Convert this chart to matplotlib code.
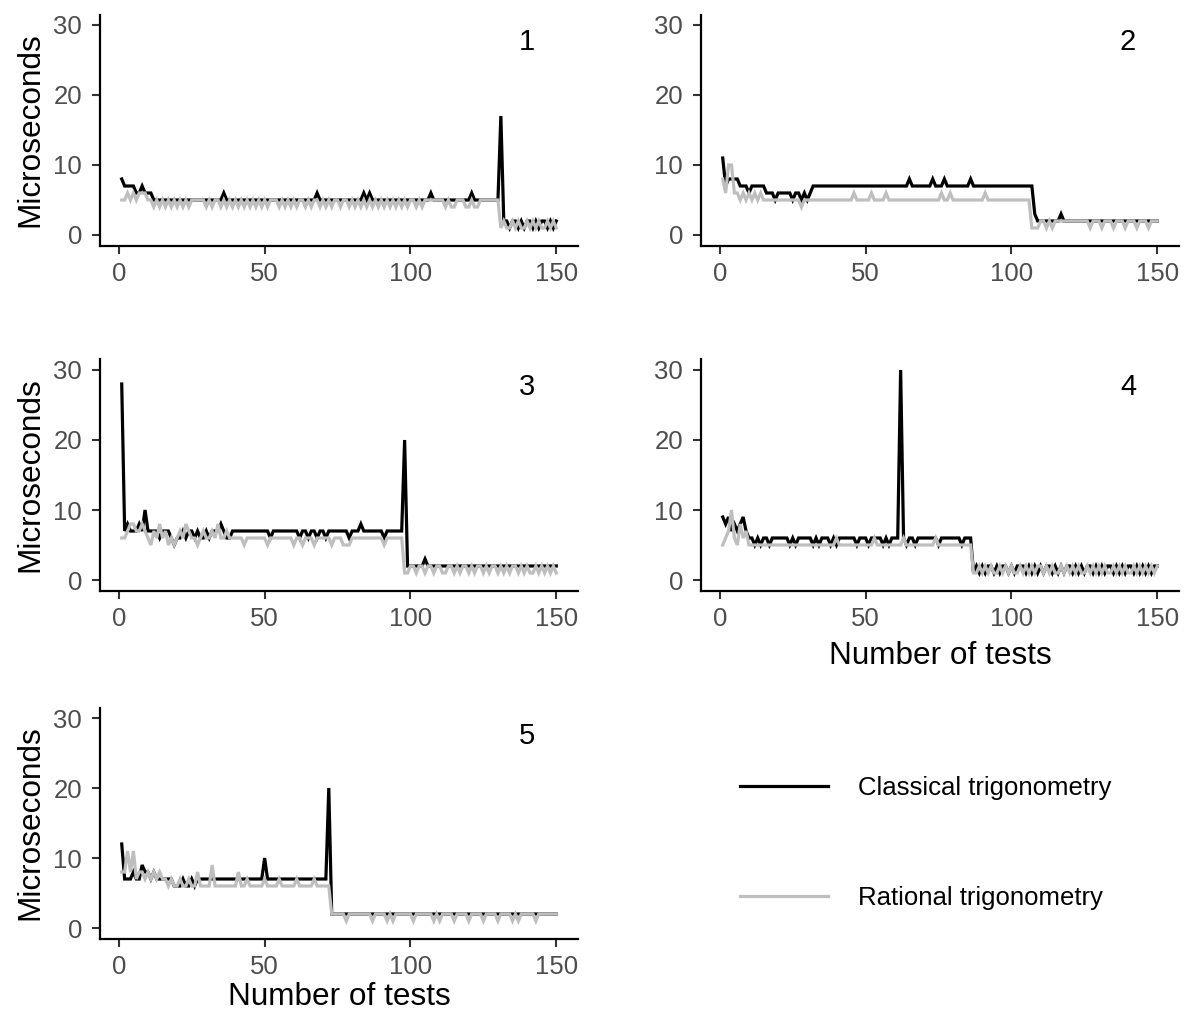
import matplotlib
matplotlib.use("Agg")
import matplotlib.pyplot as plt
from matplotlib.lines import Line2D
import numpy as np

plt.rcParams['font.family'] = ['Liberation Sans', 'DejaVu Sans']

tests = list(range(1, 151))
panel_labels = ["1", "2", "3", "4", "5"]
series_names = ["Classical trigonometry", "Rational trigonometry"]
xticks = [0, 50, 100, 150]
yticks = [0, 10, 20, 30]

classical_1 = [8,7,7,7,7,6,6,7,6,6,6,5,5,5,5,
               5,5,5,5,5,5,5,5,5,5,5,5,5,5,5,
               5,5,5,5,5,6,5,5,5,5,5,5,5,5,5,
               5,5,5,5,5,5,5,5,5,5,5,5,5,5,5,
               5,5,5,5,5,5,5,6,5,5,5,5,5,5,5,
               5,5,5,5,5,5,5,5,6,5,6,5,5,5,5,
               5,5,5,5,5,5,5,5,5,5,5,5,5,5,5,
               5,6,5,5,5,5,5,5,5,5,5,5,5,5,5,
               6,5,5,5,5,5,5,5,5,5,17,2,2,1,2,
               2,1,2,1,2,2,1,2,1,2,2,1,2,1,2]
rational_1 = [5,5,6,5,6,5,6,6,6,5,5,4,5,4,5,
              4,5,4,5,4,5,4,5,4,5,5,5,5,5,4,
              5,4,5,5,4,5,4,5,4,5,4,5,4,5,4,
              5,4,5,4,5,4,5,5,5,4,5,4,5,4,5,
              4,5,5,4,5,4,5,5,4,5,4,5,4,5,5,
              4,5,5,4,5,4,5,4,5,4,5,4,5,4,5,
              4,5,4,5,4,5,4,5,4,5,5,4,5,4,5,
              5,5,5,5,5,5,4,5,4,4,5,5,5,4,4,
              5,4,4,5,5,5,5,5,5,5,1,2,1,1,2,
              1,2,1,1,2,1,2,1,2,1,1,2,1,2,1]

classical_2 = [11,7,8,8,8,8,7,7,7,6,7,7,7,7,7,
               6,6,6,5,6,6,6,6,6,5,6,6,5,6,5,
               6,7,7,7,7,7,7,7,7,7,7,7,7,7,7,
               7,7,7,7,7,7,7,7,7,7,7,7,7,7,7,
               7,7,7,7,8,7,7,7,7,7,7,7,8,7,7,
               7,8,7,7,7,7,7,7,7,7,8,7,7,7,7,
               7,7,7,7,7,7,7,7,7,7,7,7,7,7,7,
               7,7,3,2,2,2,2,2,2,2,2,3,2,2,2,
               2,2,2,2,2,2,2,2,2,2,2,2,2,2,2,
               2,2,2,2,2,2,2,2,2,2,2,2,2,2,2]
rational_2 = [8,6,10,10,6,6,5,6,5,6,5,6,5,6,5,
              5,5,5,5,5,5,5,5,5,5,5,5,4,5,5,
              5,5,5,5,5,5,5,5,5,5,5,5,5,5,5,
              6,5,5,5,5,5,6,5,5,5,5,6,5,5,5,
              5,5,5,5,5,5,5,5,5,5,5,5,5,5,5,
              6,5,5,6,5,5,5,5,5,5,5,5,5,5,5,
              6,5,5,5,5,5,5,5,5,5,5,5,5,5,5,
              5,1,1,1,2,2,1,2,1,2,2,2,2,2,2,
              2,2,2,2,2,2,1,2,2,2,1,2,2,2,1,
              2,2,2,1,2,2,2,1,2,2,2,1,2,2,2]

classical_3 = [28,7,8,7,7,7,8,7,10,7,7,7,7,6,7,
               7,7,6,5,6,6,7,6,7,7,6,7,6,6,7,
               6,7,7,7,8,7,6,6,7,7,7,7,7,7,7,
               7,7,7,7,7,7,6,7,7,7,7,7,7,7,7,
               7,6,7,7,6,7,7,6,7,7,6,7,7,7,7,
               7,7,7,6,7,7,7,8,7,7,7,7,7,7,7,
               6,7,7,7,7,7,7,20,2,2,2,2,2,2,3,
               2,2,2,2,2,2,2,2,2,2,2,2,2,2,2,
               2,2,2,2,2,2,2,2,2,2,2,2,2,2,2,
               2,2,2,2,2,2,2,2,2,2,2,2,2,2,2]
rational_3 = [6,6,7,8,8,7,7,8,7,6,5,7,6,8,6,
              7,5,6,5,6,7,6,8,7,6,6,5,6,7,6,
              6,7,6,8,6,6,7,6,6,6,6,6,5,6,6,
              6,6,6,6,6,5,6,6,6,6,6,6,6,6,5,
              6,6,5,6,6,6,5,6,6,6,6,6,5,6,6,
              6,5,5,5,6,6,6,6,6,6,6,6,6,6,6,
              5,6,6,6,6,6,6,1,1,2,2,1,2,2,1,
              2,2,1,2,2,1,1,2,2,1,2,1,2,2,1,
              2,1,2,2,1,2,1,2,2,1,2,1,2,1,2,
              2,1,2,1,2,1,1,2,1,2,1,2,1,2,1]

classical_4 = [9,8,9,7,8,7,8,9,7,6,6,5,6,5,6,
               6,5,6,6,6,6,6,6,5,6,5,6,6,6,6,
               6,5,6,5,6,6,6,5,6,5,6,6,6,6,6,
               6,5,6,6,6,5,6,6,6,6,5,6,5,6,6,
               6,30,6,5,6,6,5,6,6,6,6,6,6,6,5,
               6,6,6,6,6,6,6,5,6,6,6,1,2,1,2,
               1,2,2,1,2,1,2,2,1,2,1,2,2,2,1,
               2,1,2,1,2,1,2,2,1,2,1,2,1,2,2,
               1,2,1,2,1,2,2,1,2,1,2,1,2,2,1,
               2,1,2,1,2,2,1,2,1,2,1,2,1,2,2]
rational_4 = [5,6,7,10,6,5,8,6,7,5,5,5,5,5,5,
              5,5,5,5,5,5,5,5,5,5,5,5,5,5,5,
              5,5,5,5,5,5,5,5,5,6,5,5,5,5,5,
              5,5,5,5,5,5,5,6,5,5,5,5,5,5,5,
              5,5,6,5,5,5,5,5,5,5,5,5,5,6,5,
              5,5,5,5,5,5,5,5,5,5,5,1,1,2,1,
              2,1,2,1,1,2,1,2,1,2,1,1,2,1,2,
              1,2,1,2,2,1,2,1,2,1,1,2,1,2,1,
              2,1,2,1,1,2,1,2,1,2,1,2,1,1,2,
              1,2,1,2,1,1,2,1,2,1,2,1,2,1,2]

classical_5 = [12,7,7,7,8,7,7,9,8,8,7,8,7,7,7,
               7,7,7,6,6,6,7,6,6,7,6,7,7,7,7,
               7,7,7,7,7,7,7,7,7,7,7,7,7,7,7,
               7,7,7,7,10,7,7,7,7,7,7,7,7,7,7,
               7,7,7,7,7,7,7,7,7,7,7,20,2,2,2,
               2,2,2,2,2,2,2,2,2,2,2,2,2,2,2,
               2,2,2,2,2,2,2,2,2,2,2,2,2,2,2,
               2,2,2,2,2,2,2,2,2,2,2,2,2,2,2,
               2,2,2,2,2,2,2,2,2,2,2,2,2,2,2,
               2,2,2,2,2,2,2,2,2,2,2,2,2,2,2]
rational_5 = [8,8,11,8,11,7,8,8,7,8,7,8,7,8,7,
              7,6,7,6,6,7,6,6,7,6,6,8,6,6,6,
              6,9,6,6,6,6,6,6,6,6,8,6,6,7,6,
              6,6,6,6,7,6,6,6,6,7,6,6,6,6,6,
              7,6,6,6,6,6,7,6,6,6,6,6,2,2,2,
              2,2,1,2,2,2,2,2,2,2,2,1,2,2,2,
              2,1,2,1,2,2,2,2,2,2,1,2,2,2,2,
              2,2,1,2,1,2,2,2,2,1,2,2,2,2,1,
              2,2,2,2,1,2,2,2,2,1,2,2,2,2,1,
              2,1,2,2,2,2,2,1,2,2,2,2,2,2,2]

classical = [classical_1, classical_2, classical_3, classical_4, classical_5]
rational = [rational_1, rational_2, rational_3, rational_4, rational_5]

W, H = 1186, 1016
fig = plt.figure(figsize=(W / 100, H / 100), dpi=100)

col_left = [100, 701]
row_bottom = [245.5, 590.5, 938.5]
ax_w = 478
ax_h = 231

positions = [(0, 0), (1, 0), (0, 1), (1, 1), (0, 2)]
black = "#000000"
grey = "#BEBEBE"
lw = 2.3

for k, (c, r) in enumerate(positions):
    ax = fig.add_axes([col_left[c] / W, 1 - row_bottom[r] / H, ax_w / W, ax_h / H])
    ax.plot(tests, classical[k], color=black, lw=lw, solid_joinstyle='miter', zorder=2)
    ax.plot(tests, rational[k], color=grey, lw=lw, solid_joinstyle='miter', zorder=3)
    ax.set_xlim(-6.45, 157.45)
    ax.set_ylim(-1.5, 31.5)
    ax.set_xticks(xticks)
    ax.set_yticks(yticks)
    for s in ['top', 'right']:
        ax.spines[s].set_visible(False)
    for s in ['left', 'bottom']:
        ax.spines[s].set_linewidth(1.6)
        ax.spines[s].set_color('black')
    ax.tick_params(axis='both', length=5.8, width=1.5, color='#333333',
                   labelcolor='#4D4D4D', labelsize=18.5)
    ax.tick_params(axis='x', pad=6)
    ax.tick_params(axis='y', pad=7)
    ax.text(140, 27.5, panel_labels[k], fontsize=21, ha='center', va='center', color='black')
    if c == 0:
        ax.set_ylabel("Microseconds", fontsize=22.7, labelpad=6)
    if k == 3:
        ax.set_xlabel("Number of tests", fontsize=22.7, labelpad=7)
    if k == 4:
        ax.set_xlabel("Number of tests", fontsize=22.7, labelpad=2)

handles = [Line2D([], [], color=black, lw=lw), Line2D([], [], color=grey, lw=lw)]
fig.legend(handles, series_names, loc='upper left', bbox_to_anchor=(740 / W, 1 - 776 / H),
           frameon=False, fontsize=18.5, handlelength=3.42, handletextpad=1.17,
           labelspacing=3.36, borderpad=0, borderaxespad=0)

fig.savefig("out.png", dpi=100)
